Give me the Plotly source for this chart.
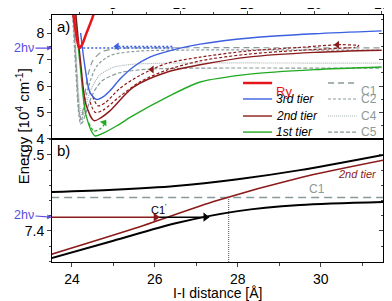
import plotly.graph_objects as go

# ---------------- data: panel a) ----------------
ry_x = [2.0, 2.2, 2.35, 2.5, 2.7, 3.0, 3.35, 3.7]
ry_y = [8.9, 8.2, 7.7, 7.43, 7.55, 7.95, 8.4, 8.9]

t3_x = [2.6, 2.9, 3.3, 3.8, 4.3, 4.8, 5.6, 6.5, 7.75, 10.0, 11.5, 15.2, 20.0, 25.0]
t3_y = [8.0, 6.8, 5.75, 5.49, 5.6, 5.83, 6.3, 6.71, 7.09, 7.43, 7.58, 7.81, 7.97, 8.08]

t2_x = [2.25, 2.6, 3.0, 3.6, 4.1, 4.8, 6.5, 9.0, 11.5, 15.2, 20.0, 25.0]
t2_y = [8.7, 6.9, 5.3, 4.69, 4.8, 5.07, 5.95, 6.52, 6.8, 7.1, 7.27, 7.35]

t1_x = [2.2, 2.6, 3.0, 3.66, 4.2, 5.3, 6.5, 9.0, 11.5, 15.2, 20.0, 25.0]
t1_y = [8.7, 6.6, 4.9, 4.12, 4.2, 4.5, 4.88, 5.57, 6.15, 6.45, 6.62, 6.72]

t2d_lo_x = [3.3, 3.7, 4.3, 5.5, 7.0, 9.0, 11.5, 15.0, 19.0, 23.0]
t2d_lo_y = [5.4, 5.0, 5.1, 5.6, 6.15, 6.6, 6.95, 7.2, 7.35, 7.45]
t2d_up_x = [3.5, 3.9, 4.5, 5.5, 7.0, 9.0, 11.5, 15.0, 19.0, 22.0, 23.3, 23.0]
t2d_up_y = [5.6, 5.25, 5.4, 5.9, 6.4, 6.85, 7.09, 7.32, 7.46, 7.56, 7.52, 7.46]

t1d_x = [3.2, 3.6, 4.1, 4.5]
t1d_y = [4.6, 4.3, 4.4, 4.65]

c1_x = [2.05, 2.3, 2.5, 2.65, 2.85, 3.1, 3.5, 4.2, 5.5, 8.0, 25.0]
c1_y = [8.7, 6.5, 5.0, 4.75, 5.4, 6.3, 6.95, 7.3, 7.42, 7.44, 7.44]
c2_x = [2.0, 2.25, 2.45, 2.6, 2.85, 3.2, 3.8, 4.8, 6.5, 9.0, 25.0]
c2_y = [8.7, 6.5, 5.0, 4.55, 5.2, 6.0, 6.75, 7.15, 7.3, 7.35, 7.35]
c4_x = [2.1, 2.35, 2.55, 2.75, 3.0, 3.4, 4.0, 5.0, 6.5, 9.0, 25.0]
c4_y = [8.7, 6.5, 5.2, 4.85, 5.3, 5.9, 6.4, 6.7, 6.82, 6.86, 6.86]
c5_x = [2.05, 2.3, 2.5, 2.7, 3.0, 3.5, 4.2, 5.5, 7.5, 10.0, 25.0]
c5_y = [8.7, 6.5, 5.0, 4.6, 5.0, 5.7, 6.2, 6.5, 6.63, 6.67, 6.67]

two_hv_a = 7.43
blue_path_x = [2.5, 9.5]
blue_ret_x = [5.4, 9.5]
blue_ret_y = 7.49

heads_a_x = [5.3, 7.9, 21.7, 4.35]
heads_a_y = [7.49, 6.62, 7.56, 4.62]

# ---------------- data: panel b) ----------------
ub_x = [23.5, 25.0, 26.5, 28.0, 29.5, 31.5]
ub_y = [7.451, 7.454, 7.459, 7.468, 7.480, 7.500]
red_x = [23.5, 25.5, 27.5, 29.5, 31.5]
red_y = [7.369, 7.403, 7.440, 7.470, 7.493]
lb_x = [23.5, 25.0, 26.5, 28.0, 29.5, 31.5]
lb_y = [7.364, 7.387, 7.410, 7.426, 7.434, 7.438]
c1_b = 7.444
two_hv_b = 7.418
cross_x = 27.78
arrow_red = [23.5, 26.1]
arrow_black = [26.1, 27.3]

RED = "#e8141b"
BLUE = "#3a5fe0"
DRED = "#8b1a1a"
GREEN = "#22aa22"
GREY = "#8a9a9a"
LGREY = "#a8b4b4"
HV = "#5a4ee0"
FONT = "Liberation Sans, Arial, sans-serif"

fig = go.Figure()

def tr(x, y, color, width, dash="solid", xa="x", ya="y", shape="spline"):
    fig.add_trace(go.Scatter(x=x, y=y, mode="lines", xaxis=xa, yaxis=ya,
                             line=dict(color=color, width=width, dash=dash, shape=shape,
                                       smoothing=0.8),
                             showlegend=False, hoverinfo="skip"))

def head(x, y, symbol, color, size, xa="x", ya="y", angle=0):
    fig.add_trace(go.Scatter(x=[x], y=[y], mode="markers", xaxis=xa, yaxis=ya,
                             marker=dict(symbol=symbol, color=color, size=size, angle=angle,
                                         line=dict(width=0)),
                             showlegend=False, hoverinfo="skip"))

# panel a
tr(c2_x, c2_y, GREY, 1.2, "3px,2px")
tr(c5_x, c5_y, GREY, 1.2, "4px,2px")
tr(c4_x, c4_y, LGREY, 1.2, "1px,1px")
tr(c1_x, c1_y, GREY, 1.2, "6px,4px")
tr(blue_path_x, [two_hv_a, two_hv_a], BLUE, 1.5, "2px,2px", shape="linear")
tr(blue_ret_x, [blue_ret_y, blue_ret_y], BLUE, 1.5, "2px,2px", shape="linear")
tr(t1_x, t1_y, GREEN, 1.4)
tr(t1d_x, t1d_y, GREEN, 1.2, "3px,2px")
tr(t2d_lo_x, t2d_lo_y, DRED, 1.2, "3px,2px")
tr(t2d_up_x, t2d_up_y, DRED, 1.2, "3px,2px")
tr(t2_x, t2_y, DRED, 1.4)
tr(t3_x, t3_y, BLUE, 1.4)
tr(ry_x, ry_y, RED, 2.5)
head(heads_a_x[0], heads_a_y[0], "triangle-left", BLUE, 7)
head(heads_a_x[1], heads_a_y[1], "triangle-left", DRED, 7)
head(heads_a_x[2], heads_a_y[2], "triangle-left", DRED, 7)
head(heads_a_x[3], heads_a_y[3], "triangle-up", GREEN, 7, angle=35)

# panel b
tr([23.5, 31.5], [c1_b, c1_b], GREY, 1.5, "8px,5px", "x2", "y2", "linear")
tr([cross_x, cross_x], [7.359, c1_b], "#555555", 1, "1px,1px", "x2", "y2", "linear")
tr(ub_x, ub_y, "black", 2, xa="x2", ya="y2")
tr(lb_x, lb_y, "black", 2, xa="x2", ya="y2")
tr(red_x, red_y, DRED, 1.6, xa="x2", ya="y2")
tr(arrow_red, [two_hv_b, two_hv_b], DRED, 1.5, xa="x2", ya="y2", shape="linear")
tr(arrow_black, [two_hv_b, two_hv_b], "black", 1.5, xa="x2", ya="y2", shape="linear")
head(arrow_red[1] - 0.08, two_hv_b, "triangle-right", DRED, 8, "x2", "y2")
head(arrow_black[1] - 0.08, two_hv_b, "triangle-right", "black", 8, "x2", "y2")

ann = []
ann.append(dict(x=26.1, y=two_hv_b, xref="x2", yref="y2", text="C1<sup>'</sup>", showarrow=False,
                yshift=8, font=dict(size=11, color="black", family=FONT)))
ann.append(dict(x=29.9, y=c1_b, xref="x2", yref="y2", text="C1", showarrow=False,
                yshift=8, font=dict(size=12, color=GREY, family=FONT)))
ann.append(dict(x=31.4, y=7.475, xref="x2", yref="y2", text="<i>2nd tier</i>", showarrow=False,
                xanchor="right", font=dict(size=11, color=DRED, family=FONT)))
# 2hv labels
for yy, yr, dy in [(two_hv_a, "y", 0), (two_hv_b, "y2", -2)]:
    ann.append(dict(x=0, y=yy, xref="paper", yref=yr, ax=-28, ay=dy, text="2hν",
                    showarrow=True, arrowhead=2, arrowsize=0.8, arrowwidth=1.2, arrowcolor=HV,
                    font=dict(size=12.5, color=HV, family=FONT)))
# panel labels
ann.append(dict(x=0.01, y=0.995, xref="paper", yref="paper", text="a)", showarrow=False,
                xanchor="left", yanchor="top", font=dict(size=15, color="black", family=FONT)))
ann.append(dict(x=0.01, y=0.493, xref="paper", yref="paper", text="b)", showarrow=False,
                xanchor="left", yanchor="top", font=dict(size=15, color="black", family=FONT)))
# axis titles
ann.append(dict(x=-0.125, y=0.55, xref="paper", yref="paper", text="Energy [10<sup>4</sup> cm<sup>-1</sup>]",
                textangle=-90, showarrow=False, font=dict(size=15, color="black", family=FONT)))
ann.append(dict(x=0.5, y=-0.1255, xref="paper", yref="paper", text="I-I distance [Å]",
                showarrow=False, yanchor="middle", borderpad=0,
                font=dict(size=14, color="black", family=FONT)))

# manual legend
leg_rows = [0.7247, 0.660, 0.591, 0.526]
col1 = [("Ry", RED, 2.5, "solid", False, RED),
        ("3rd tier", BLUE, 1.4, "solid", True, "black"),
        ("2nd tier", DRED, 1.4, "solid", True, "black"),
        ("1st tier", GREEN, 1.4, "solid", True, "black")]
col2 = [("C1", GREY, 1.5, "6px,4px"), ("C2", GREY, 1.2, "3px,2px"),
        ("C4", LGREY, 1.2, "1px,1px"), ("C5", GREY, 1.2, "4px,2px")]
shapes = []
for ry_, (lab, col, w, d, it, tc) in zip(leg_rows, col1):
    shapes.append(dict(type="line", xref="paper", yref="paper", x0=0.577, x1=0.665, y0=ry_, y1=ry_,
                       line=dict(color=col, width=w, dash=d)))
    ann.append(dict(x=0.674, y=ry_, xref="paper", yref="paper", xanchor="left", borderpad=0,
                    text=(f"<i>{lab}</i>" if it else lab), showarrow=False,
                    font=dict(size=13 if lab == "Ry" else 12, color=tc, family=FONT)))
for ry_, (lab, col, w, d) in zip(leg_rows, col2):
    shapes.append(dict(type="line", xref="paper", yref="paper", x0=0.834, x1=0.921, y0=ry_, y1=ry_,
                       line=dict(color=col, width=w, dash=d)))
    ann.append(dict(x=0.93, y=ry_, xref="paper", yref="paper", xanchor="left", text=lab,
                    borderpad=0, showarrow=False, font=dict(size=12, color=GREY, family=FONT)))

axfont = dict(size=14, color="black", family=FONT)
topfont = dict(size=13.5, color="black", family=FONT)
common = dict(showgrid=False, zeroline=False, automargin=False)
fig.update_layout(
    width=384, height=293, margin=dict(l=44, r=9, t=7, b=39, autoexpand=False),
    paper_bgcolor="white", plot_bgcolor="white", showlegend=False,
    annotations=ann, shapes=shapes,
    xaxis=dict(domain=[0, 1], anchor="y", side="top", range=[0.47, 25.1],
               tickvals=[5, 10, 15, 20, 25], ticks="outside", ticklen=3,
               ticklabelstandoff=-3,
               minor=dict(dtick=2.5, tick0=0, ticks="outside", ticklen=2),
               showline=True, linecolor="black", linewidth=1, mirror=True,
               tickfont=topfont, **common),
    yaxis=dict(domain=[0.498, 1], anchor="x", range=[4.0, 8.68],
               tickvals=[4, 5, 6, 7, 8], ticks="outside", ticklen=4,
               minor=dict(dtick=0.5, ticks="outside", ticklen=2.5),
               showline=True, linecolor="black", linewidth=1, mirror=True,
               tickfont=axfont, **common),
    yaxis3=dict(overlaying="y", side="right", anchor="x", range=[4.0, 8.68],
                tickvals=[4, 5, 6, 7, 8], ticks="inside", ticklen=4, showticklabels=False,
                minor=dict(dtick=0.5, ticks="inside", ticklen=2.5), **common),
    xaxis2=dict(domain=[0, 1], anchor="y2", range=[23.52, 31.5],
                tickvals=[24, 26, 28, 30], ticks="outside", ticklen=4,
                minor=dict(dtick=1, ticks="outside", ticklen=2.5),
                showline=True, linecolor="black", linewidth=1, mirror=True,
                tickfont=axfont, **common),
    yaxis2=dict(domain=[0, 0.498], anchor="x2", range=[7.359, 7.521],
                tickvals=[7.4, 7.5], ticktext=["7.4", "7.5"], ticks="outside", ticklen=4,
                minor=dict(dtick=0.02, tick0=7.4, ticks="outside", ticklen=2.5),
                showline=True, linecolor="black", linewidth=1, mirror=True,
                tickfont=axfont, **common),
    yaxis4=dict(overlaying="y2", side="right", anchor="x2", range=[7.359, 7.521],
                tickvals=[7.4, 7.5], ticks="inside", ticklen=4, showticklabels=False,
                minor=dict(dtick=0.02, tick0=7.4, ticks="inside", ticklen=2.5), **common),
)
fig.add_trace(go.Scatter(x=[None], y=[None], xaxis="x", yaxis="y3", showlegend=False))
fig.add_trace(go.Scatter(x=[None], y=[None], xaxis="x2", yaxis="y4", showlegend=False))

fig.write_html("out.html")
